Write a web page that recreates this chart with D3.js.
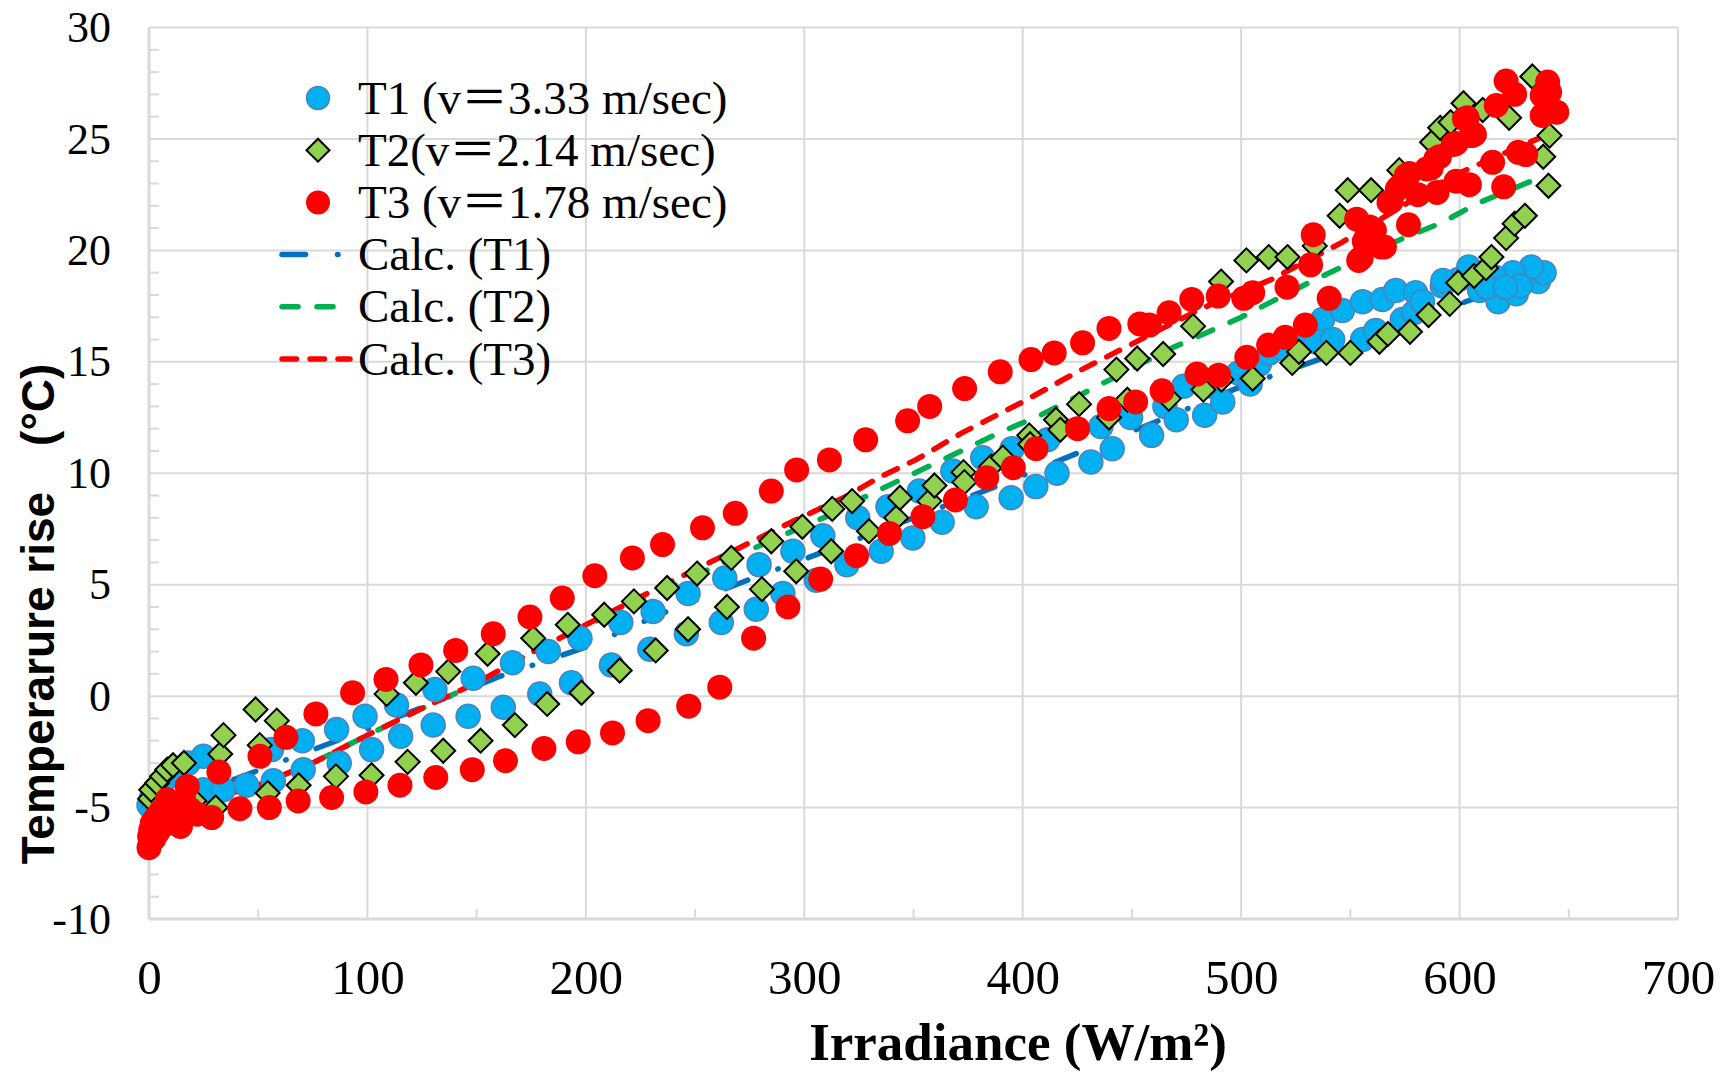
<!DOCTYPE html>
<html>
<head>
<meta charset="utf-8">
<script src="https://cdn.jsdelivr.net/npm/d3@7"></script>
<style>
  body { margin: 0; background: #fff; }
</style>
</head>
<body>
<div id="chart"></div>
<script>
// measured points: [irradiance W/m2, temperature rise degC]
const t1Data = [
  [0,-4.9],[1,-4.6],[2.5,-4.4],[4,-4.1],[6,-3.9],[9,-3.6],[13,-3.3],[18,-3.0],
  [24.9,-2.7],[56.1,-2.4],[70.2,-2.0],[85.9,-1.5],[98.9,-0.9],[113.3,-0.4],[130.9,0.3],[148.4,0.8],
  [166.4,1.5],[182.8,2.0],[197.3,2.6],[216,3.3],[230.8,3.8],[246.8,4.6],[263.6,5.3],[279.3,5.9],
  [294.8,6.5],[308.5,7.2],[324.5,8.0],[338.3,8.5],[352.7,9.2],[368,10.1],[381.7,10.7],[395.1,11.1],
  [411.4,11.5],[435.8,12.1],[449.4,12.5],[465.1,13.0],[473.7,13.9],[486.6,13.9],[498.8,14.5],[508.4,14.9],
  [512.9,15.4],[519,15.6],[537.3,16.9],[546.4,17.3],[555.6,17.7],[564.7,17.8],[570.8,18.2],[579.9,18.1],
  [592.1,18.4],[599.7,18.7],[604.2,19.25],[609.2,18.2],[617.6,17.7],[626,18.05],[636.1,18.6],[638.7,19.0],
  [632.8,19.25],[624.4,19.0],[616,18.8],[612.6,18.35],[627.7,18.4],[621,18.35],[592.4,18.65],
  [24.9,-4.2],[34,-4.2],[44.7,-4.0],[56.9,-3.8],[70.6,-3.3],[87.1,-3.0],[101.9,-2.4],[115.2,-1.8],
  [130.1,-1.3],[146.1,-0.9],[162.2,-0.5],[178.9,0.1],[193.4,0.6],[211.7,1.4],[229.3,2.1],[246,2.8],
  [262,3.3],[278,3.9],[290.2,4.6],[305.5,5.2],[319.5,5.9],[335.2,6.5],[349.7,7.1],[363.1,7.8],
  [378.7,8.5],[394.7,8.9],[406,9.4],[415.7,10.0],[431.2,10.5],[441,11.1],[459,11.7],[470.3,12.4],
  [483.3,12.6],[491.6,13.2],[504.1,14.0],[528.2,16.0],[534.2,15.9],[541.9,16.0],[555.6,16.0],[561.6,16.4],
  [573.8,16.9],[579,17.2],[583,17.7]
];
const t2Data = [
  [0.5,-4.6],[1,-4.2],[3.7,-3.9],[6,-3.6],[8.3,-3.3],[11,-3.1],[16,-3.0],[20.7,-4.7],[30.5,-5.0],
  [32.6,-2.6],[34.1,-1.75],[48.8,-0.6],[50.7,-2.2],[54.3,-4.35],[58.5,-1.1],[68.5,-4.0],[85.6,-3.6],
  [101.9,-3.55],[108.8,0.1],[118.4,-2.95],[122.2,0.6],[134.7,-2.45],[137,1.1],[151.8,-2.0],[155,1.9],
  [167.5,-1.3],[175.9,2.6],[182.3,-0.35],[191.7,3.2],[198,0.15],[208.4,3.65],[215.5,1.15],[222,4.25],
  [232,2.05],[237.2,4.85],[246.8,3.0],[250.9,5.5],[264.6,4.0],[266.6,6.2],[280.6,4.8],[284.9,6.95],
  [296.3,5.6],[299.1,7.6],[312.3,6.5],[312.8,8.4],[321.9,8.75],[329.6,7.4],[342.1,8.0],[343.8,8.9],
  [357.3,8.75],[359.6,9.45],[372.9,10.05],[373.3,9.6],[385.5,10.3],[390.9,10.7],[403,11.7],[403.4,11.3],
  [415.2,12.4],[417.2,11.95],[425.8,13.1],[439.5,12.5],[442.9,14.65],[447.9,13.3],[452.4,15.15],[464.3,15.35],
  [466.9,13.35],[478,16.6],[482.7,13.75],[490.8,18.6],[491,14.2],[502.4,19.55],[505.3,14.25],[512.6,19.7],
  [521.2,19.7],[523.4,14.95],[526.5,15.45],[533.7,20.2],[539,15.4],[545.1,21.55],[548.8,22.7],[550,15.4],
  [559.5,22.7],[563.3,15.9],[567.2,16.25],[572.4,23.6],[577.3,16.35],[585.8,17.1],[587.4,24.85],[591.1,25.5],
  [595.5,17.6],[595.9,25.75],[599.3,18.55],[601.8,26.6],[606.6,18.85],[610.6,26.3],[612.1,19.2],[614.6,19.7],
  [621.3,20.55],[622.7,25.95],[625.2,21.2],[629.9,21.55],[633.3,27.8],[638.3,24.2],[640.7,22.9],[641.2,25.15]
];
const t3Data = [
  [0,-6.8],[0.3,-6.3],[0.8,-6.0],[1.5,-5.7],[2.2,-6.4],[3,-5.5],[4,-6.1],[5.2,-5.2],[6.5,-5.8],
  [8.3,-4.65],[9.5,-5.5],[11.3,-5.4],[12.5,-5.0],[14.4,-5.85],[16,-4.7],[17.5,-4.05],[19,-5.1],[22,-5.3],
  [28.7,-5.45],[41.6,-5.05],[55.1,-5.0],[68.3,-4.7],[83.6,-4.55],[99.3,-4.3],[114.9,-4.0],[131.3,-3.65],
  [148,-3.3],[163.2,-2.9],[180.8,-2.35],[196.5,-2.05],[212.2,-1.65],[228.5,-1.1],[247.1,-0.45],[261.3,0.4],
  [276.8,2.6],[292.5,4.0],[307.5,5.25],[323.9,6.3],[339,7.3],[354.3,8.05],[369.2,8.8],[383.5,9.8],
  [395.7,10.25],[406.1,11.1],[425.1,12.0],[439.5,12.9],[451.7,13.2],[463.8,13.7],[479.8,14.45],[489.7,14.4],
  [502.6,15.2],[512.6,15.75],[520.2,16.1],[529.4,16.65],[540.3,17.85],[553.8,19.55],[560.5,20.65],[563.9,20.15],
  [558.8,21.05],[552.9,21.4],[556.4,20.4],[565.6,20.15],[554.9,19.65],[561,20.9],[576.6,21.15],
  [32,-3.4],[50.8,-2.7],[62.7,-1.85],[76.4,-0.8],[93.2,0.15],[108.5,0.75],[124.5,1.4],[140.4,2.05],
  [157.6,2.8],[174.4,3.55],[189.2,4.4],[204.1,5.4],[221.3,6.2],[235.1,6.8],[253.4,7.55],[268.4,8.2],
  [284.9,9.2],[296.5,10.15],[311.5,10.6],[328.1,11.5],[347.3,12.35],[357.4,13.0],[373.4,13.8],[389.7,14.55],
  [403.8,15.1],[414.4,15.4],[427.4,15.85],[439.5,16.5],[453.6,16.7],[458,16.65],[467,17.2],[477.4,17.8],
  [489.5,17.95],[501.2,17.85],[505.3,18.1],[521,18.35],[531.8,19.35],[533,20.7],
  [567.7,22.15],[568.7,22.2],[571.5,22.75],[572.5,22.85],[575.6,23.35],[577,23.45],[580.9,22.5],[584.9,23.65],
  [587,23.7],[589.1,24.1],[589.7,22.6],[590.8,24.2],[597.1,24.75],[598.4,24.8],[598.4,23.1],[602.2,25.9],
  [603.5,25.95],[604.5,22.95],[605.5,25.15],[606.8,25.2],[615.1,23.95],[616.8,26.5],[620.2,22.85],[621.3,27.6],
  [625.2,27.0],[626.9,24.4],[630.3,24.3],[637.8,26.95],[637.8,26.05],[640.3,27.55],[641.2,27.1],[644.5,26.2]
];

// calculated curves
const calcT1 = [
  [0,-4.8],[20,-4.3],[40,-3.7],[86,-2.0],[124,-0.55],[161,0.9],[200,2.2],[237,3.8],[274,5.2],
  [311,6.55],[350,8.0],[389,9.45],[425,10.9],[462,12.35],[499,13.85],[537,15.15],[600,17.6],[640,19.0]
];
const calcT2 = [
  [0,-5.3],[25,-4.7],[50,-4.0],[75,-3.0],[100,-1.75],[125,-0.55],[150,0.55],[175,1.95],[200,3.15],
  [250,5.4],[285,7.0],[310,8.05],[330,9.05],[345,9.75],[375,11.15],[390,11.85],[408,12.6],[438,14.1],
  [469,15.65],[499,16.95],[530,18.5],[546,19.25],[562,20.05],[592,21.25],[608,22.1],[640,23.4]
];
const calcT3 = [
  [0,-5.3],[25,-4.7],[50,-4.0],[75,-3.0],[100,-1.75],[125,-0.55],[150,0.6],[175,1.95],[200,3.2],
  [230,4.7],[263,6.3],[296,7.9],[320,9.0],[334,9.8],[351,10.6],[372,11.8],[400,13.2],[426,14.6],
  [458,16.2],[482,17.4],[514,18.7],[546,20.35],[596,23.3],[612,24.0],[638,25.1]
];

const xTicks = [0, 100, 200, 300, 400, 500, 600, 700];
const yTicks = [-10, -5, 0, 5, 10, 15, 20, 25, 30];
const legendLabels = ["T1 (v＝3.33 m/sec)", "T2(v＝2.14 m/sec)", "T3 (v＝1.78 m/sec)",
                      "Calc. (T1)", "Calc. (T2)", "Calc. (T3)"];

(function () {
  const W = 1726, H = 1076;
  const margin = { top: 27.5, right: 48, bottom: 157, left: 149 },
        width = W - margin.left - margin.right,
        height = H - margin.top - margin.bottom;

  const serif = "'Liberation Serif', 'Times New Roman', 'Noto Sans CJK JP', serif";
  const sans = "'Liberation Sans', Arial, 'Noto Sans CJK JP', sans-serif";
  const gridColor = "#d9d9d9";

  const svg = d3.select("#chart")
    .append("svg")
      .attr("width", W)
      .attr("height", H)
      .style("display", "block");

  const g = svg.append("g")
    .attr("transform", `translate(${margin.left},${margin.top})`);

  const x = d3.scaleLinear().domain([0, 700]).range([0, width]);
  const y = d3.scaleLinear().domain([-10, 30]).range([height, 0]);

  // === GRID ===
  g.append("g").selectAll("line")
    .data(yTicks).join("line")
      .attr("x1", 0).attr("x2", width)
      .attr("y1", d => y(d)).attr("y2", d => y(d))
      .attr("stroke", gridColor).attr("stroke-width", 2);

  g.append("g").selectAll("line")
    .data(xTicks).join("line")
      .attr("y1", 0).attr("y2", height)
      .attr("x1", d => x(d)).attr("x2", d => x(d))
      .attr("stroke", gridColor).attr("stroke-width", 2);

  // minor ticks pointing into the plot
  const yMinor = d3.range(-10, 31, 1).filter(v => v % 5 !== 0);
  g.append("g").selectAll("line")
    .data(yMinor).join("line")
      .attr("x1", 0).attr("x2", 10)
      .attr("y1", d => y(d)).attr("y2", d => y(d))
      .attr("stroke", gridColor).attr("stroke-width", 2);

  const xMinor = d3.range(50, 700, 100);
  g.append("g").selectAll("line")
    .data(xMinor).join("line")
      .attr("y1", height).attr("y2", height - 10)
      .attr("x1", d => x(d)).attr("x2", d => x(d))
      .attr("stroke", gridColor).attr("stroke-width", 2);

  // axis lines
  g.append("line").attr("x1", 0).attr("x2", 0).attr("y1", 0).attr("y2", height)
    .attr("stroke", gridColor).attr("stroke-width", 3);
  g.append("line").attr("x1", 0).attr("x2", width).attr("y1", height).attr("y2", height)
    .attr("stroke", gridColor).attr("stroke-width", 3);

  // === AXIS LABELS ===
  const yAxis = g.append("g")
    .call(d3.axisLeft(y).tickValues(yTicks).tickSize(0).tickPadding(38)
      .tickFormat(d => String(d)));
  yAxis.select(".domain").remove();
  yAxis.selectAll("text")
    .attr("fill", "#000")
    .style("font-family", serif)
    .style("font-size", "44px");

  const xAxis = g.append("g")
    .attr("transform", `translate(0,${height})`)
    .call(d3.axisBottom(x).tickValues(xTicks).tickSize(0).tickPadding(40)
      .tickFormat(d => String(d)));
  xAxis.select(".domain").remove();
  xAxis.selectAll("text")
    .attr("fill", "#000")
    .style("font-family", serif)
    .style("font-size", "49px");

  // === CALC LINES (under markers) ===
  const line = d3.line().x(d => x(d[0])).y(d => y(d[1]));
  const calcStyles = [
    { data: calcT1, color: "#0070c0", dash: "23.5 32 0.5 32" },
    { data: calcT2, color: "#00b050", dash: "16 19" },
    { data: calcT3, color: "#ff0000", dash: "14.5 13.5" }
  ];
  calcStyles.forEach(s => {
    g.append("path")
      .datum(s.data)
      .attr("d", line)
      .attr("fill", "none")
      .attr("stroke", s.color)
      .attr("stroke-width", 5.5)
      .attr("stroke-linecap", "round")
      .attr("stroke-dasharray", s.dash);
  });

  // === MARKERS ===
  const diamond = r => `M0,${-r}L${r},0L0,${r}L${-r},0Z`;

  g.append("g").selectAll("circle")
    .data(t1Data).join("circle")
      .attr("cx", d => x(d[0])).attr("cy", d => y(d[1]))
      .attr("r", 12)
      .attr("fill", "#00b0f0")
      .attr("stroke", "#4f81bd").attr("stroke-width", 1.5);

  g.append("g").selectAll("path")
    .data(t2Data).join("path")
      .attr("transform", d => `translate(${x(d[0])},${y(d[1])})`)
      .attr("d", diamond(12))
      .attr("fill", "#92d050")
      .attr("stroke", "#000").attr("stroke-width", 2);

  g.append("g").selectAll("circle")
    .data(t3Data).join("circle")
      .attr("cx", d => x(d[0])).attr("cy", d => y(d[1]))
      .attr("r", 12.5)
      .attr("fill", "#ff0000");

  // === LEGEND ===
  const legend = svg.append("g");
  const rowY = i => 98 + i * 52.2;
  legendLabels.forEach((label, i) => {
    const ly = rowY(i);
    if (i === 0) {
      legend.append("circle").attr("cx", 318).attr("cy", ly).attr("r", 11.5)
        .attr("fill", "#00b0f0").attr("stroke", "#4f81bd").attr("stroke-width", 1.5);
    } else if (i === 1) {
      legend.append("path").attr("transform", `translate(318,${ly})`)
        .attr("d", diamond(11.5)).attr("fill", "#92d050")
        .attr("stroke", "#000").attr("stroke-width", 2);
    } else if (i === 2) {
      legend.append("circle").attr("cx", 318).attr("cy", ly).attr("r", 12)
        .attr("fill", "#ff0000");
    } else {
      const s = calcStyles[i - 3];
      legend.append("line")
        .attr("x1", 282).attr("x2", 350).attr("y1", ly).attr("y2", ly)
        .attr("stroke", s.color).attr("stroke-width", 5.5)
        .attr("stroke-linecap", "round").attr("stroke-dasharray", s.dash);
    }
    legend.append("text")
      .attr("x", 358).attr("y", ly + 15.5)
      .text(label)
      .style("font-family", serif)
      .style("font-size", "47px")
      .attr("fill", "#000");
  });

  // === AXIS TITLES ===
  svg.append("text")
    .attr("transform", "translate(54,614) rotate(-90)")
    .attr("text-anchor", "middle")
    .style("font-family", sans)
    .style("font-weight", "bold")
    .style("font-size", "46px")
    .text("Temperarure rise\u3000(°C)");

  svg.append("text")
    .attr("x", 1018).attr("y", 1060)
    .attr("text-anchor", "middle")
    .style("font-family", serif)
    .style("font-weight", "bold")
    .style("font-size", "53px")
    .text("Irradiance (W/m²)");
})();
</script>
</body>
</html>
